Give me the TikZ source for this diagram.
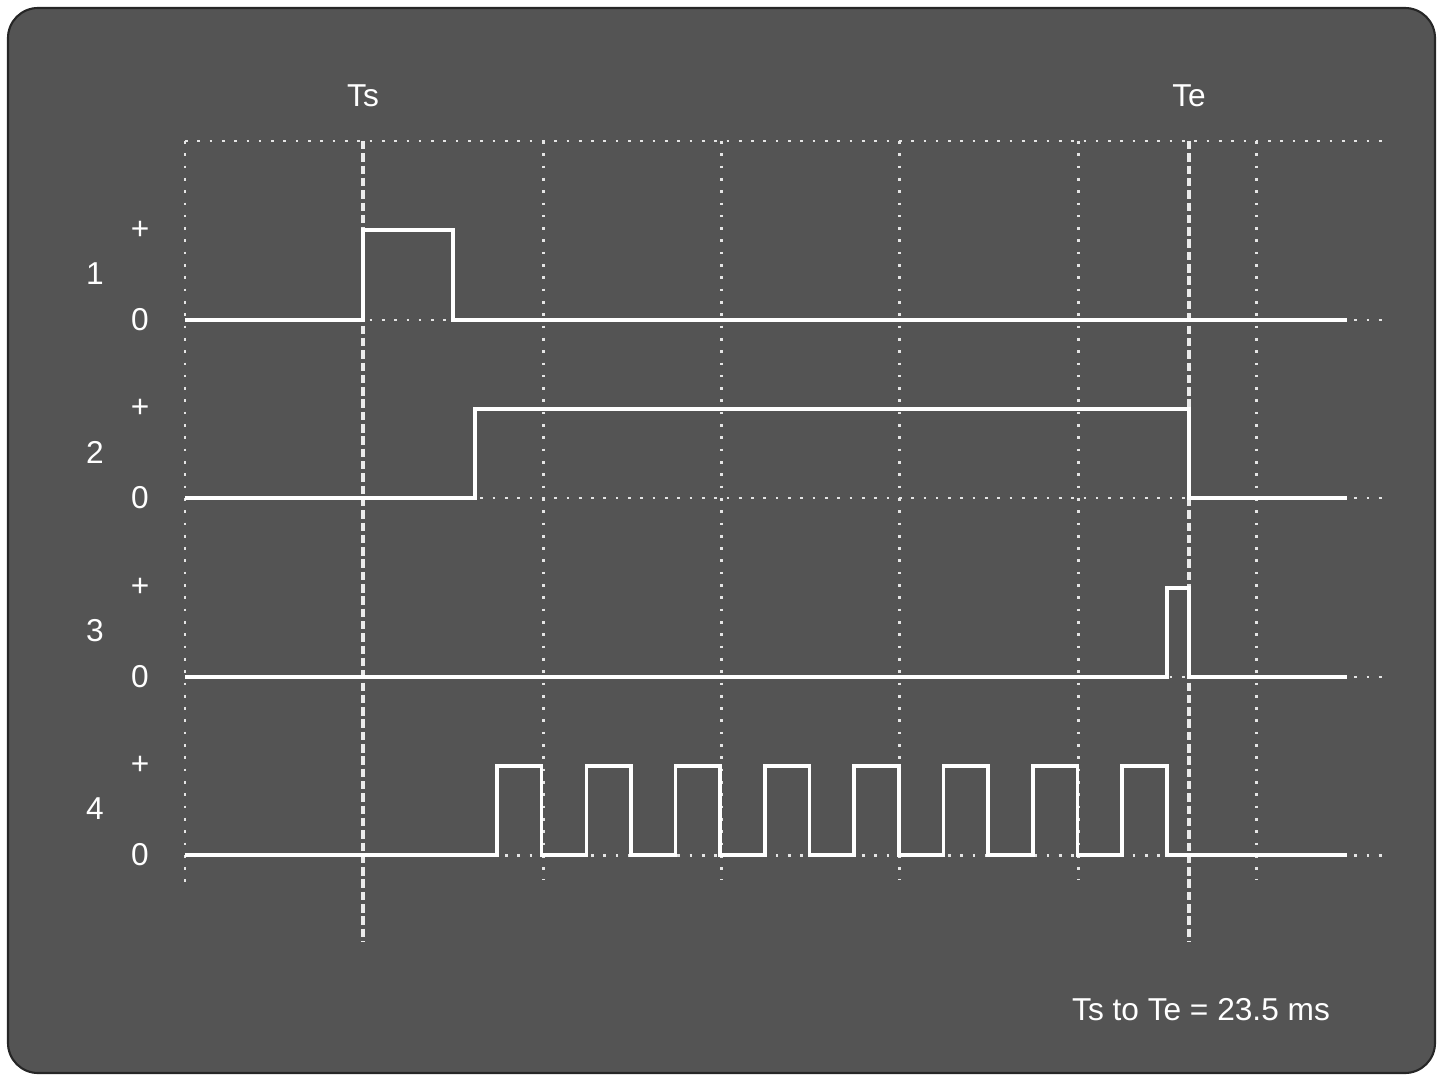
\documentclass[tikz,border=0pt]{standalone}
\usepackage{fontspec}
\setmainfont{Liberation Sans}
\begin{document}
\begin{tikzpicture}[
        x=0.01cm, y=-0.01cm,
        every node/.style={text=white, font=\fontsize{9}{10}\selectfont, inner sep=0pt},
        panel/.style={draw=black!85, line width=0.6pt, fill=black!67, rounded corners=0.3cm},
        gridline/.style={white!90!black, line width=0.85pt, dash pattern=on 0.75pt off 2.75pt},
        marker/.style={white!92!black, line width=0.9pt, dash pattern=on 2.4pt off 1.1pt},
        signal/.style={white, line width=1pt},
    ]
    \useasboundingbox (0,0) rectangle (1442,1076);

    % --- Scope screen ------------------------------------------------------
    \draw[panel] (8,8) rectangle (1435,1073);

    % --- Dotted graticule ----------------------------------------------------
    \draw[gridline] (185,141) -- (1385,141);
    \foreach \y in {320,498,677,855}
        \draw[gridline] (185,\y) -- (1385,\y);
    \draw[gridline] (185,141) -- (185,890);
    \foreach \x in {543,721,899,1078,1256}
        \draw[gridline] (\x,141) -- (\x,880);

    % --- Start and end markers -------------------------------------------
    \node (ts) at (363,96) {Ts};
    \node (te) at (1189,96) {Te};
    \coordinate (tsbot) at (363,942);
    \coordinate (tebot) at (1189,942);
    \draw[marker] (363,141) -- (tsbot);
    \draw[marker] (1189,141) -- (tebot);

    % --- Channel labels ------------------------------------------------------
    \foreach \n/\y in {1/320, 2/498, 3/677, 4/855} {
        \node (ch\n)   at (95,\y-46) {\n};
        \node (plus\n) at (140,\y-90) {+};
        \node (zero\n) at (140,\y) {0};
    }

    % --- Traces ----------------------------------------------------------
    \draw[signal] (185,320) -- (363,320) -- (363,230) -- (453,230)
        -- (453,320) -- (1347,320);
    \draw[signal] (185,498) -- (475,498) -- (475,409) -- (1189,409)
        -- (1189,498) -- (1347,498);
    \draw[signal] (185,677) -- (1167,677) -- (1167,588) -- (1189,588)
        -- (1189,677) -- (1347,677);
    \draw[signal] (185,855) -- (497,855)
        foreach \k in {0,...,7} { -- ++(0,-89) -- ++(44.65,0) -- ++(0,89) -- ++(44.65,0) }
        -- (1347,855);

    % --- Readout ---------------------------------------------------------
    \node (readout) at (1201,1010) {Ts to Te = 23.5 ms};

    \end{tikzpicture}
\end{document}
